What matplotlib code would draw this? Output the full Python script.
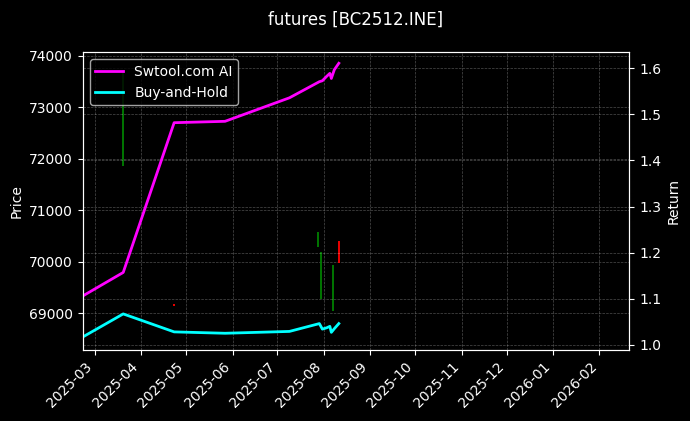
import pandas as pd
import matplotlib
matplotlib.use('Agg')
import matplotlib.pyplot as plt
import matplotlib.dates as mdates

# strategy / buy-and-hold return curves
dates = ['2025-02-21', '2025-03-20', '2025-04-23', '2025-05-27', '2025-07-09',
         '2025-07-29', '2025-07-31', '2025-08-03', '2025-08-05', '2025-08-06',
         '2025-08-08', '2025-08-11']
ai_return = [1.106, 1.157, 1.482, 1.485, 1.536, 1.571, 1.573, 1.583, 1.589, 1.578,
             1.597, 1.611]
bh_return = [1.017, 1.067, 1.028, 1.025, 1.029, 1.046, 1.034, 1.037, 1.040, 1.027,
             1.035, 1.046]

# price bars (low/high), colour by up/down
bar_dates = ['2025-03-20', '2025-04-23', '2025-07-28', '2025-07-30', '2025-08-07', '2025-08-11']
bar_low = [71866, 69145, 70296, 69272, 69050, 69971]
bar_high = [73724, 69175, 70573, 70196, 69938, 70410]
bar_up = [True, False, True, True, True, False]

x = pd.to_datetime(dates)
xb = pd.to_datetime(bar_dates)

plt.style.use('dark_background')
fig, ax1 = plt.subplots(figsize=(6.9, 4.21), dpi=100)
fig.subplots_adjust(left=0.120, right=0.912, top=0.876, bottom=0.169)

colors = ['green' if u else 'red' for u in bar_up]
ax1.vlines(xb, bar_low, bar_high, colors=colors, linewidth=1.3)
ax1.set_ylim(68288, 74072)
ax1.set_ylabel('Price')
ax1.grid(True, linestyle='--', linewidth=0.5, alpha=0.3)

ax2 = ax1.twinx()
ax2.plot(x, ai_return, color='magenta', linewidth=2, label='Swtool.com AI')
ax2.plot(x, bh_return, color='cyan', linewidth=2, label='Buy-and-Hold')
ax2.set_ylim(0.989, 1.635)
ax2.set_ylabel('Return')
ax2.grid(True, linestyle='--', linewidth=0.5, alpha=0.3)
ax2.legend(loc='upper left')

ax1.set_xlim(pd.Timestamp('2025-02-21'), pd.Timestamp('2026-02-21'))
ax1.xaxis.set_major_locator(mdates.MonthLocator())
ax1.xaxis.set_major_formatter(mdates.DateFormatter('%Y-%m'))
plt.setp(ax1.get_xticklabels(), rotation=45, ha='right')

ax1.set_title('futures [BC2512.INE]', fontsize=12, pad=20)

fig.savefig('out.png', dpi=100)
